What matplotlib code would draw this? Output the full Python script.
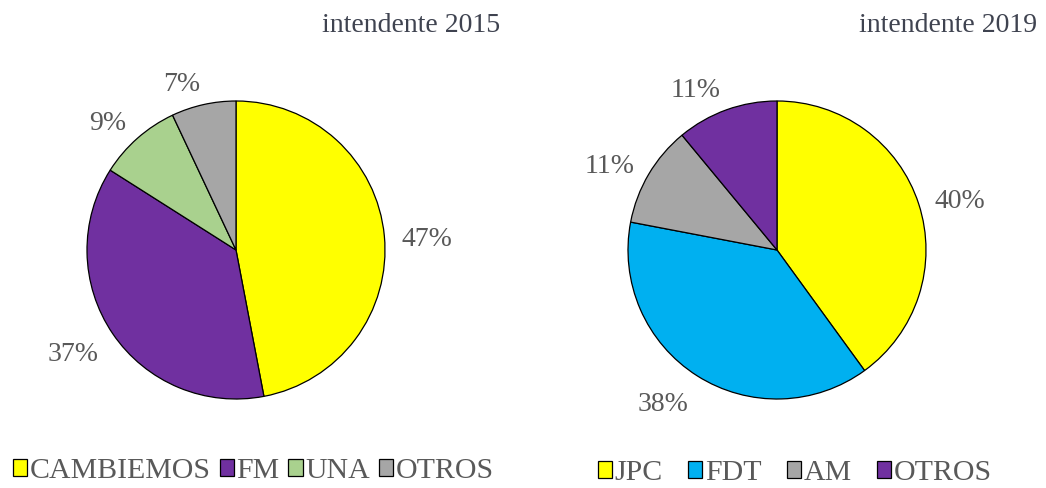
import matplotlib
matplotlib.use("Agg")
import matplotlib.pyplot as plt
import numpy as np

# data
titles = ["intendente 2015", "intendente 2019"]
labels_2015 = ["CAMBIEMOS", "FM", "UNA", "OTROS"]
values_2015 = [47, 37, 9, 7]
colours_2015 = ["#FFFF00", "#7030A0", "#A9D18E", "#A6A6A6"]
labels_2019 = ["JPC", "FDT", "AM", "OTROS"]
values_2019 = [40, 38, 11, 11]
colours_2019 = ["#FFFF00", "#00B0F0", "#A6A6A6", "#7030A0"]

plt.rcParams['font.family'] = ['Liberation Serif', 'DejaVu Serif']

W, H = 1046, 488
fig = plt.figure(figsize=(W / 100, H / 100), dpi=100)
renderer = fig.canvas.get_renderer()

def add_pie(cx, cy, r, values, colours, labels, title, title_xy, leg_xy, colspace):
    # axes placed in pixel units, one data unit = pie radius
    ax = fig.add_axes([(cx - r) / W, (H - cy - r) / H, 2 * r / W, 2 * r / H])
    wedges, _, pcts = ax.pie(values, colors=colours, startangle=90, counterclock=False,
                             autopct='%d%%', pctdistance=1.25,
                             wedgeprops=dict(edgecolor='black', linewidth=0.9),
                             textprops=dict(fontsize=20, color='#595959'))
    ax.set_xlim(-1, 1)
    ax.set_ylim(-1, 1)

    # label box sits just outside the rim, its inner corner facing the slice
    for w, t in zip(wedges, pcts):
        ang = np.radians((w.theta1 + w.theta2) / 2)
        ux, uy = np.cos(ang), np.sin(ang)
        hw = t.get_window_extent(renderer).width / 2
        x = (r + 17) * ux + hw * np.sign(ux)
        y = (r + 17) * uy + 10 * uy - 3
        t.set_position((x / r, y / r))
        t.set_va('center_baseline')

    fig.text(title_xy[0] / W, 1 - title_xy[1] / H, title, ha='right', va='center',
             fontsize=20, color='#3F4350')
    fig.legend(wedges, labels, loc='center left',
               bbox_to_anchor=(leg_xy[0] / W, 1 - leg_xy[1] / H), ncol=4, frameon=False,
               fontsize=21.5, labelcolor='#595959', handlelength=0.47, handleheight=0.47,
               handletextpad=0.08, columnspacing=colspace, borderpad=0, borderaxespad=0)
    return ax

add_pie(236, 250, 149, values_2015, colours_2015, labels_2015, titles[0], (500, 25), (13, 471), 0.31)
add_pie(777, 250, 149, values_2019, colours_2019, labels_2019, titles[1], (1037, 26), (598, 473), 0.86)

fig.savefig("out.png", dpi=100)
